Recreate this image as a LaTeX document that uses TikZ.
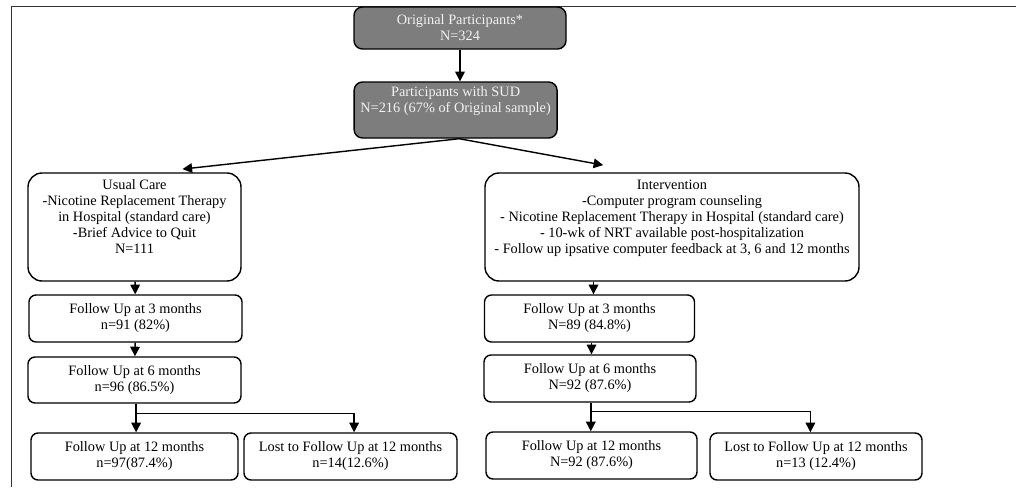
\documentclass[tikz,border=0pt]{standalone}
\usepackage{fontspec}
\setmainfont{Liberation Serif}
\usetikzlibrary{shapes,arrows.meta}
\definecolor{boxgray}{RGB}{125,125,125}
\tikzstyle{base} = [rectangle, draw, line width=1pt, align=center, inner sep=1pt, font=\fontsize{10.2}{11.4}\selectfont]
\tikzstyle{top} = [base, fill=boxgray, text=white!95!black, rounded corners=6pt]
\tikzstyle{arm} = [base, rounded corners=10pt, minimum height=2.7cm]
\tikzstyle{block} = [base, rounded corners=5pt, minimum width=5.3cm, minimum height=1.175cm]
\tikzstyle{line} = [draw, line width=1pt, -{Triangle[length=2.4mm,width=2.4mm]}]

\begin{document}
\begin{tikzpicture}
	\useasboundingbox (0,0) rectangle (25.4,-12.175);
	% frame
	\draw [line width=0.9pt, black!80] (25.4,-0.17) -- (0.29,-0.17) -- (0.29,-12.175);

	% put the boxes where we want them
	\node [top, minimum width=5.3cm, minimum height=1.05cm] (orig) at (11.5,-0.7) {Original Participants*\\N=324};
	\node [top, minimum width=5.075cm, minimum height=1.4cm] (sud) at (11.39,-2.75) {Participants with SUD\\N=216 (67\% of Original sample)\\\strut};
	\node [arm, minimum width=5.325cm] (usual) at (3.3625,-5.675) {Usual Care\\-Nicotine Replacement Therapy\\in Hospital (standard care)\\-Brief Advice to Quit\\N=111\\\strut};
	\node [arm, minimum width=9.35cm] (interv) at (16.8,-5.675) {Intervention\\-Computer program counseling\\- Nicotine Replacement Therapy in Hospital (standard care)\\- 10-wk of NRT available post-hospitalization\\- Follow up ipsative computer feedback at 3, 6 and 12 months\\\strut};

	% usual care arm
	\node [block, minimum width=5.325cm] (fu3a) at (3.3875,-7.9625) {Follow Up at 3 months\\n=91 (82\%)};
	\node [block, minimum width=5.325cm, minimum height=1.15cm] (fu6a) at (3.3625,-9.5) {Follow Up at 6 months\\n=96 (86.5\%)};
	\node [block, minimum width=5.175cm] (fu12a) at (3.3625,-11.4125) {Follow Up at 12 months\\n=97(87.4\%)};
	\node [block, minimum width=5.325cm] (losta) at (8.7625,-11.4125) {Lost to Follow Up at 12 months\\n=14(12.6\%)};

	% intervention arm
	\node [block, minimum width=5.25cm] (fu3b) at (14.7375,-7.9625) {Follow Up at 3 months\\N=89 (84.8\%)};
	\node [block] (fu6b) at (14.75,-9.4625) {Follow Up at 6 months\\N=92 (87.6\%)};
	\node [block, minimum width=5.275cm] (fu12b) at (14.7875,-11.3875) {Follow Up at 12 months\\N=92 (87.6\%)};
	\node [block] (lostb) at (20.4,-11.4125) {Lost to Follow Up at 12 months\\n=13 (12.4\%)};

	% branch points
	\coordinate (split) at ([xshift=0.09cm]sud.south);
	\coordinate (ua) at ([xshift=1.2cm,yshift=0.08cm]usual.north);
	\coordinate (ia) at ([xshift=-1.72cm,yshift=0.18cm]interv.north);
	\coordinate (ja) at ([xshift=0.04cm,yshift=-0.25cm]fu6a.south);
	\coordinate (jb) at ([xshift=0.02cm,yshift=-0.22cm]fu6b.south);

	% draw the connectors
	\draw [line] (orig.south) -- (orig.south |- sud.north);
	\draw [line] (split) -- (ua);
	\draw [line] (split) -- (ia);
	\draw [line] (usual) -- (fu3a);
	\draw [line] (fu3a) -- (fu6a);
	\draw [line] ([xshift=0.04cm]fu6a.south) -- (ja |- fu12a.north);
	\draw [line] (ja) -| ([xshift=0.09cm]losta.north);
	\draw [line] ([xshift=0.1cm]fu3b.north |- interv.south) -- ([xshift=0.1cm]fu3b.north);
	\draw [line] ([xshift=0.05cm]fu3b.south) -- ([xshift=0.05cm]fu3b.south |- fu6b.north);
	\draw [line] ([xshift=0.02cm]fu6b.south) -- (jb |- fu12b.north);
	\draw [line] (jb) -| ([xshift=-0.14cm]lostb.north);
\end{tikzpicture}
\end{document}
